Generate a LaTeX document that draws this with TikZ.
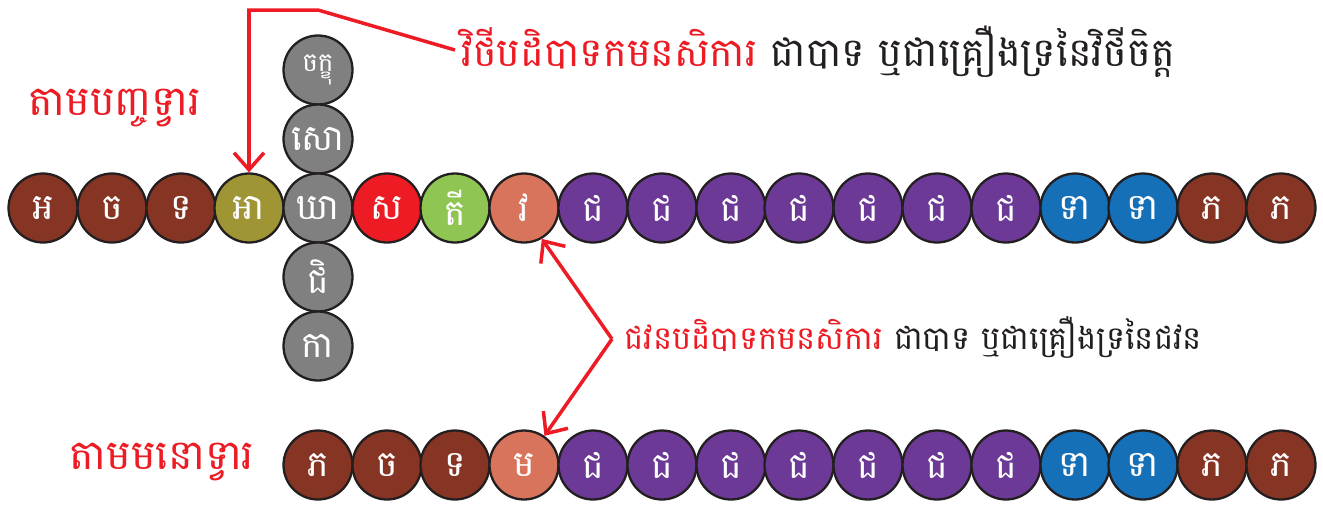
\documentclass[tikz,border=0pt]{standalone}
\usepackage{fontspec}
\newfontfamily\khmerfont[Script=Khmer]{Battambang}
\usetikzlibrary{arrows.meta}
\definecolor{beadbrown}{HTML}{863423}
\definecolor{beadolive}{HTML}{A09535}
\definecolor{beadgray}{HTML}{808080}
\definecolor{beadred}{HTML}{ED1C24}
\definecolor{beadgreen}{HTML}{8FC653}
\definecolor{beadsalmon}{HTML}{D8735C}
\definecolor{beadpurple}{HTML}{6C3A96}
\definecolor{beadblue}{HTML}{1570B8}
\definecolor{labelred}{HTML}{ED1C24}
\definecolor{labelblack}{HTML}{231F20}

\tikzset{
  bead/.style={circle, draw=labelblack, line width=1.3pt, minimum size=1.38cm,
    inner sep=0pt, text=white, font=\khmerfont\fontsize{20.5}{20.5}\selectfont},
  doorlabel/.style={text=labelred, font=\khmerfont\fontsize{23.5}{23.5}\selectfont},
  notelabel/.style={anchor=west, inner sep=0pt, text=labelblack},
  pointer/.style={draw=labelred, line width=2pt,
    -{Straight Barb[length=3.4mm,width=6mm,line width=2pt]}}
}

\begin{document}
\begin{tikzpicture}[x=0.02cm,y=-0.02cm]
\useasboundingbox (0,0) rectangle (1323,512);

% five-door process
\node[bead, fill=beadbrown] (b1) at (43,208) {អ};
\node[bead, fill=beadbrown] (b2) at (112,208) {ច};
\node[bead, fill=beadbrown] (b3) at (181,208) {ទ};
\node[bead, fill=beadolive] (b4) at (249,208) {អា};
\node[bead, fill=beadgray] (v1) at (318,70) {\fontsize{15}{15}\selectfont ចក្ខុ};
\node[bead, fill=beadgray] (v2) at (318,139) {សោ};
\node[bead, fill=beadgray] (b5) at (318,208) {ឃា};
\node[bead, fill=beadgray] (v4) at (318,277) {ជិ};
\node[bead, fill=beadgray] (v5) at (318,346) {កា};
\node[bead, fill=beadred] (b6) at (387,208) {ស};
\node[bead, fill=beadgreen] (b7) at (455,208) {តី};
\node[bead, fill=beadsalmon] (b8) at (524,208) {វ};
\node[bead, fill=beadpurple] (b9) at (593,208) {ជ};
\node[bead, fill=beadpurple] (b10) at (662,208) {ជ};
\node[bead, fill=beadpurple] (b11) at (731,208) {ជ};
\node[bead, fill=beadpurple] (b12) at (799,208) {ជ};
\node[bead, fill=beadpurple] (b13) at (868,208) {ជ};
\node[bead, fill=beadpurple] (b14) at (937,208) {ជ};
\node[bead, fill=beadpurple] (b15) at (1006,208) {ជ};
\node[bead, fill=beadblue] (b16) at (1075,208) {ទា};
\node[bead, fill=beadblue] (b17) at (1143,208) {ទា};
\node[bead, fill=beadbrown] (b18) at (1212,208) {ភ};
\node[bead, fill=beadbrown] (b19) at (1281,208) {ភ};

% mind-door process
\node[bead, fill=beadbrown] (m1) at (318,465) {ភ};
\node[bead, fill=beadbrown] (m2) at (387,465) {ច};
\node[bead, fill=beadbrown] (m3) at (455,465) {ទ};
\node[bead, fill=beadsalmon] (m4) at (524,465) {ម};
\node[bead, fill=beadpurple] (m5) at (593,465) {ជ};
\node[bead, fill=beadpurple] (m6) at (662,465) {ជ};
\node[bead, fill=beadpurple] (m7) at (731,465) {ជ};
\node[bead, fill=beadpurple] (m8) at (799,465) {ជ};
\node[bead, fill=beadpurple] (m9) at (868,465) {ជ};
\node[bead, fill=beadpurple] (m10) at (937,465) {ជ};
\node[bead, fill=beadpurple] (m11) at (1006,465) {ជ};
\node[bead, fill=beadblue] (m12) at (1075,465) {ទា};
\node[bead, fill=beadblue] (m13) at (1143,465) {ទា};
\node[bead, fill=beadbrown] (m14) at (1212,465) {ភ};
\node[bead, fill=beadbrown] (m15) at (1281,465) {ភ};

% door labels
\node[doorlabel] (pancadvara) at (115,108) {តាមបញ្ចទ្វារ};
\node[doorlabel] (manodvara) at (162,462) {តាមមនោទ្វារ};

% notes
\node[notelabel, font=\khmerfont\fontsize{22.6}{22.6}\selectfont] (vithinote) at (461,52)
  {\textcolor{labelred}{វិថីបដិបាទកមនសិការ} ជាបាទ ឬជាគ្រឿងទ្រនៃវិថីចិត្ត};
\node[notelabel, font=\khmerfont\fontsize{18.3}{18.3}\selectfont] (javananote) at (624,338)
  {\textcolor{labelred}{ជវនបដិបាទកមនសិការ} ជាបាទ ឬជាគ្រឿងទ្រនៃជវន};
\coordinate (vithifoot) at (455,50);
\coordinate (javanafoot) at (612,339);

% pointers
\draw[pointer] (vithifoot) -- (318,10) -- (b4.north |- 0,10) -- (b4.north);
\draw[pointer] (javanafoot) -- (b8.-60);
\draw[pointer] (javanafoot) -- (m4.55);
\end{tikzpicture}
\end{document}
